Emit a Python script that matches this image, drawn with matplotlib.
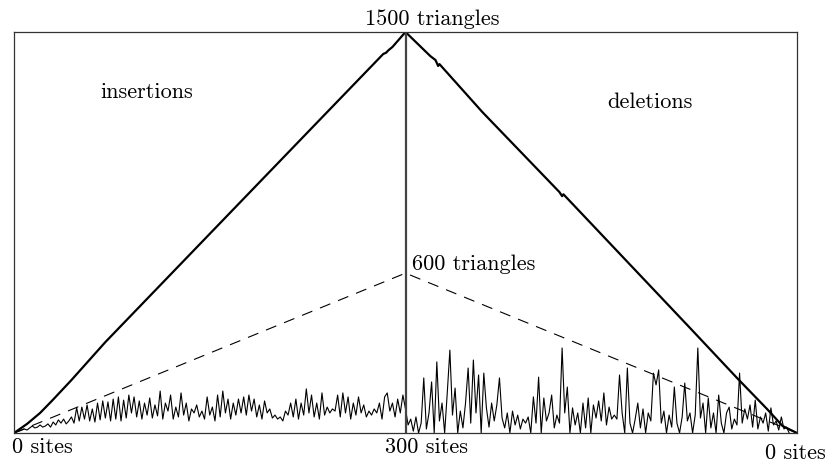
import numpy as np
import matplotlib
matplotlib.use("Agg")
import matplotlib.pyplot as plt

# cumulative triangle count (thick line): steps, triangles
total_steps = [0, 10, 20, 29, 44, 70, 150, 230, 283, 285, 287, 290, 300,
               319, 323, 325, 326, 359, 418, 420, 421, 518, 554, 577, 589, 600]
total_tri = [0, 34, 75, 120, 198, 340, 745, 1150, 1418, 1422, 1432, 1444, 1500,
             1410, 1395, 1373, 1380, 1200, 901, 886, 893, 393, 206, 90, 26, 0]

# current triangulation size (dashed)
cur_steps = [0, 300, 600]
cur_tri = [0, 598, 0]

# triangles touched per step (noisy line), one value every 2 steps
ins_noise = [0, 4, 7, 11, 15, 11,
             19, 26, 19, 22, 30, 22, 26,
             34, 22, 41, 30, 49, 37, 52, 34,
             45, 60, 37, 94, 45,
             97, 52, 105, 45, 90,
             41, 112, 49, 120, 56, 116,
             45, 127, 52, 135, 45, 123, 56,
             142, 75, 135, 60, 120, 52, 112, 67, 131, 56,
             105, 64, 157, 52, 112, 82, 142, 52, 97, 60,
             150, 67, 112, 45, 90, 75, 105, 60, 82, 52,
             135, 67, 97, 45, 142, 60, 157, 75, 127, 52,
             112, 67, 127,
             75, 135, 67, 142, 82, 127, 60, 105, 52, 120,
             75, 90, 56, 67, 52, 60, 45, 82, 67, 112,
             60, 127, 52, 112, 67, 165, 75, 142, 60, 112,
             52, 150, 67, 97, 75, 90, 82, 142, 60, 150,
             75, 135, 52,
             112, 67, 135, 75, 105, 60, 82, 67, 90, 75,
             112, 52, 135, 150, 82, 112, 60, 127, 75, 142]
del_noise = [90, 30, 52, 7, 60, 0, 37, 206, 15, 75, 191, 0, 266, 45, 112, 0, 150, 310, 67, 168, 0, 82,
             19, 112, 243, 37, 273, 75, 217, 0, 224, 94,
             22, 112, 45, 105, 206, 56, 19, 75, 0, 82,
             30, 67, 15, 52, 37, 60, 0, 135, 37, 209,
             0, 131, 45, 75, 142, 19, 67, 37, 318, 75,
             172, 0, 94,
             30, 75, 0, 112, 19, 131, 0, 105, 56, 120,
             45, 150, 30, 97, 52, 67, 52, 217, 75, 0,
             243, 37, 0, 52, 112, 19, 90, 0, 75, 45,
             224, 180, 236, 37, 82, 0, 67, 22, 172, 37,
             0, 60, 187,
             45, 75, 0, 67, 318, 56, 112, 0, 131, 19,
             75, 0, 142, 37, 0, 75, 97, 15, 52, 30,
             224, 37, 90, 52, 105, 22, 123, 15, 60, 37,
             75, 7, 94, 30, 45, 11, 60, 15, 22, 0]

noise = ins_noise + del_noise
noise_steps = np.arange(len(noise)) * 2

font = 'cmr10'
fs = 16

fig = plt.figure(figsize=(8.28, 4.63), dpi=100)
ax = fig.add_axes([14/828, 30/463, 783/828, 401/463])

ax.plot(noise_steps, noise, color='black', lw=0.8)
ax.plot(cur_steps, cur_tri, color='black', lw=0.8, linestyle=(0, (10, 7.5)))
ax.plot(total_steps, total_tri, color='black', lw=1.6)
ax.plot([300, 300], [0, 1500], color='#444444', lw=1.6)

ax.set_xlim(0, 600)
ax.set_ylim(0, 1500)
ax.set_xticks([])
ax.set_yticks([])
for s in ax.spines.values():
    s.set_color('#333333')
    s.set_linewidth(0.9)

ax.text(269, 1526, '1500 triangles', ha='left', va='baseline', family=font, fontsize=fs, clip_on=False)
ax.text(305, 610, '600 triangles', ha='left', va='baseline', family=font, fontsize=fs)
ax.text(102, 1253, 'insertions', ha='center', va='baseline', family=font, fontsize=fs)
ax.text(487, 1216, 'deletions', ha='center', va='baseline', family=font, fontsize=fs)
ax.text(-1.5, -75, '0 sites', ha='left', va='baseline', family=font, fontsize=fs, clip_on=False)
ax.text(284, -75, '300 sites', ha='left', va='baseline', family=font, fontsize=fs, clip_on=False)
ax.text(575.5, -97, '0 sites', ha='left', va='baseline', family=font, fontsize=fs, clip_on=False)

plt.savefig('out.png', dpi=100)
